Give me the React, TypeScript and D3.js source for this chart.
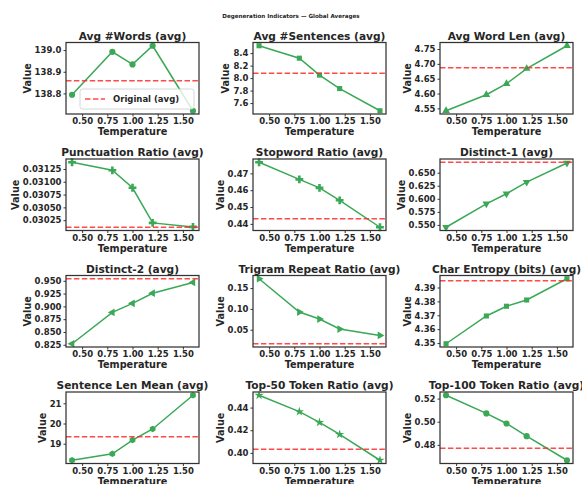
import { useEffect, useRef } from 'react'
import * as d3 from 'd3'

// temperatures sampled (x axis)
const temperatures = [0.4, 0.8, 1.0, 1.2, 1.6]
const xTicks = [0.5, 0.75, 1.0, 1.25, 1.5]

const titles = [
  'Avg #Words (avg)', 'Avg #Sentences (avg)', 'Avg Word Len (avg)',
  'Punctuation Ratio (avg)', 'Stopword Ratio (avg)', 'Distinct-1 (avg)',
  'Distinct-2 (avg)', 'Trigram Repeat Ratio (avg)', 'Char Entropy (bits) (avg)',
  'Sentence Len Mean (avg)', 'Top-50 Token Ratio (avg)', 'Top-100 Token Ratio (avg)'
]

const avgWords = [138.794, 138.992, 138.934, 139.02, 138.72]
const avgSentences = [8.518, 8.319, 8.048, 7.832, 7.477]
const avgWordLen = [4.542, 4.596, 4.633, 4.684, 4.761]
const punctuation = [0.031381, 0.031224, 0.030883, 0.030197, 0.030119]
const stopword = [0.4766, 0.4664, 0.4614, 0.454, 0.438]
const distinct1 = [0.5455, 0.5904, 0.6096, 0.6319, 0.6686]
const distinct2 = [0.827, 0.8882, 0.9059, 0.9257, 0.9467]
const trigram = [0.1723, 0.0925, 0.0757, 0.0517, 0.0364]
const charEntropy = [4.3495, 4.3695, 4.3765, 4.381, 4.3963]
const sentLen = [18.18, 18.5, 19.18, 19.73, 21.4]
const top50 = [0.4509, 0.4364, 0.4269, 0.4163, 0.3935]
const top100 = [0.5229, 0.5072, 0.4985, 0.4875, 0.4667]

const series = [avgWords, avgSentences, avgWordLen, punctuation, stopword, distinct1,
  distinct2, trigram, charEntropy, sentLen, top50, top100]

// "Original" reference values (red dashed lines)
const originals = [138.858, 8.076, 4.687, 0.030112, 0.443, 0.67, 0.954, 0.0164, 4.3948, 19.35, 0.4032, 0.477]

const yTicks = [
  [138.8, 138.9, 139.0],
  [7.6, 7.8, 8.0, 8.2, 8.4],
  [4.55, 4.6, 4.65, 4.7, 4.75],
  [0.03025, 0.0305, 0.03075, 0.031, 0.03125],
  [0.44, 0.45, 0.46, 0.47],
  [0.55, 0.575, 0.6, 0.625, 0.65],
  [0.825, 0.85, 0.875, 0.9, 0.925, 0.95],
  [0.05, 0.1, 0.15],
  [4.35, 4.36, 4.37, 4.38, 4.39],
  [19, 20, 21],
  [0.4, 0.42, 0.44],
  [0.48, 0.5, 0.52]
]
const yFormats = ['.1f', '.1f', '.2f', '.5f', '.2f', '.3f', '.3f', '.2f', '.2f', 'd', '.2f', '.2f']
const markers = ['circle', 'square', 'up', 'plus', 'plus', 'down', 'left', 'right', 'square', 'hex', 'star', 'circle']

const WIDTH = 582
const HEIGHT = 484
const GREEN = '#3aa856'
const RED = '#ff2a2a'
const FONT = 'DejaVu Sans, sans-serif'

function markerPath(kind: string) {
  switch (kind) {
    case 'circle': return { d: d3.symbol(d3.symbolCircle, 30)(), rot: 0 }
    case 'square': return { d: d3.symbol(d3.symbolSquare, 26)(), rot: 0 }
    case 'up': return { d: d3.symbol(d3.symbolTriangle, 26)(), rot: 0 }
    case 'down': return { d: d3.symbol(d3.symbolTriangle, 26)(), rot: 180 }
    case 'left': return { d: d3.symbol(d3.symbolTriangle, 26)(), rot: -90 }
    case 'right': return { d: d3.symbol(d3.symbolTriangle, 26)(), rot: 90 }
    case 'plus': return { d: d3.symbol(d3.symbolCross, 34)(), rot: 0 }
    case 'star': return { d: d3.symbol(d3.symbolStar, 26)(), rot: 0 }
    case 'hex': {
      const r = 3.3
      const pts = d3.range(6).map(i => {
        const a = Math.PI / 3 * i + Math.PI / 6
        return [r * Math.cos(a), r * Math.sin(a)]
      })
      return { d: 'M' + pts.map(p => p.join(',')).join('L') + 'Z', rot: 0 }
    }
    default: return { d: d3.symbol(d3.symbolCircle, 30)(), rot: 0 }
  }
}

export default function App() {
  const svgRef = useRef<SVGSVGElement>(null)

  useEffect(() => {
    if (!svgRef.current) return
    const svg = d3.select(svgRef.current)
    svg.selectAll('*').remove()

    svg.append('rect').attr('width', WIDTH).attr('height', HEIGHT).attr('fill', 'white')

    svg.append('text')
      .attr('x', 291).attr('y', 18)
      .attr('text-anchor', 'middle')
      .attr('font-family', FONT).attr('font-weight', 'bold').attr('font-size', 5.6)
      .attr('fill', '#262626')
      .text('Degeneration Indicators — Global Averages')

    const colLeft = [66, 253, 440]
    const axW = 133
    const axH = 71.5

    series.forEach((vals, i) => {
      const row = Math.floor(i / 3)
      const col = i % 3
      const left = colLeft[col]
      const top = 42.5 + row * 116.5
      const right = left + axW
      const bottom = top + axH

      const x = d3.scaleLinear().domain([0.34, 1.66]).range([left, right])
      const ext = d3.extent([...vals, originals[i]]) as [number, number]
      const pad = (ext[1] - ext[0]) * 0.05
      const y = d3.scaleLinear().domain([ext[0] - pad, ext[1] + pad]).range([bottom, top])

      const g = svg.append('g')

      // title
      g.append('text')
        .attr('x', (left + right) / 2).attr('y', top - 3)
        .attr('text-anchor', 'middle')
        .attr('font-family', FONT).attr('font-weight', 'bold').attr('font-size', 10.6)
        .attr('fill', '#262626')
        .text(titles[i])

      const plot = g.append('g')

      // line + markers
      const line = d3.line<number>()
        .x((_, j) => x(temperatures[j]))
        .y(d => y(d))
      plot.append('path')
        .attr('d', line(vals))
        .attr('fill', 'none')
        .attr('stroke', GREEN)
        .attr('stroke-width', 1.5)

      const m = markerPath(markers[i])
      plot.selectAll('path.mk')
        .data(vals)
        .enter()
        .append('path')
        .attr('class', 'mk')
        .attr('d', m.d)
        .attr('transform', (d, j) => `translate(${x(temperatures[j])},${y(d)}) rotate(${m.rot})`)
        .attr('fill', GREEN)

      // original reference line
      plot.append('line')
        .attr('x1', left).attr('x2', right)
        .attr('y1', y(originals[i])).attr('y2', y(originals[i]))
        .attr('stroke', RED)
        .attr('stroke-opacity', 0.85)
        .attr('stroke-width', 1.5)
        .attr('stroke-dasharray', '5.5,2.4')

      // axes
      const xAxis = d3.axisBottom(x).tickValues(xTicks).tickFormat(d3.format('.2f')).tickSize(2.5).tickPadding(1.5)
      const gx = g.append('g').attr('transform', `translate(0,${bottom})`).call(xAxis)
      const yAxis = d3.axisLeft(y).tickValues(yTicks[i]).tickFormat(d3.format(yFormats[i])).tickSize(2.5).tickPadding(2)
      const gy = g.append('g').attr('transform', `translate(${left},0)`).call(yAxis)

      ;[gx, gy].forEach(ax => {
        ax.select('.domain').remove()
        ax.selectAll('line').attr('stroke', '#333').attr('stroke-width', 1)
        ax.selectAll('text')
          .attr('font-family', FONT).attr('font-weight', 'bold').attr('font-size', 8.5)
          .attr('fill', '#262626')
      })

      // frame
      g.append('rect')
        .attr('x', left).attr('y', top).attr('width', axW).attr('height', axH)
        .attr('fill', 'none').attr('stroke', '#333').attr('stroke-width', 1.25)

      // axis labels
      g.append('text')
        .attr('x', (left + right) / 2).attr('y', bottom + 21)
        .attr('text-anchor', 'middle')
        .attr('font-family', FONT).attr('font-weight', 'bold').attr('font-size', 9.7)
        .attr('fill', '#262626')
        .text('Temperature')

      // y label sits just left of the widest tick label (bbox is in the group's local coords)
      const bb = (gy.node() as SVGGElement).getBBox()
      g.append('text')
        .attr('transform', `translate(${left + bb.x - 4},${(top + bottom) / 2}) rotate(-90)`)
        .attr('text-anchor', 'middle')
        .attr('font-family', FONT).attr('font-weight', 'bold').attr('font-size', 9.7)
        .attr('fill', '#262626')
        .text('Value')

      // legend on the first panel
      if (i === 0) {
        const lx = right - 119
        const ly = bottom - 25
        const lg = g.append('g')
        lg.append('rect')
          .attr('x', lx).attr('y', ly).attr('width', 114).attr('height', 20)
          .attr('rx', 2.5)
          .attr('fill', 'white').attr('fill-opacity', 0.8)
          .attr('stroke', '#cccccc').attr('stroke-width', 0.8)
        lg.append('line')
          .attr('x1', lx + 5).attr('x2', lx + 25)
          .attr('y1', ly + 10).attr('y2', ly + 10)
          .attr('stroke', RED).attr('stroke-opacity', 0.85)
          .attr('stroke-width', 1.5).attr('stroke-dasharray', '5.5,2.4')
        lg.append('text')
          .attr('x', lx + 33).attr('y', ly + 13)
          .attr('font-family', FONT).attr('font-weight', 'bold').attr('font-size', 8.5)
          .attr('fill', '#262626')
          .text('Original (avg)')
      }
    })
  }, [])

  return (
    <div style={{ position: 'fixed', left: 0, top: 0 }}>
      <svg ref={svgRef} width={WIDTH} height={HEIGHT} style={{ display: 'block' }} />
    </div>
  )
}
